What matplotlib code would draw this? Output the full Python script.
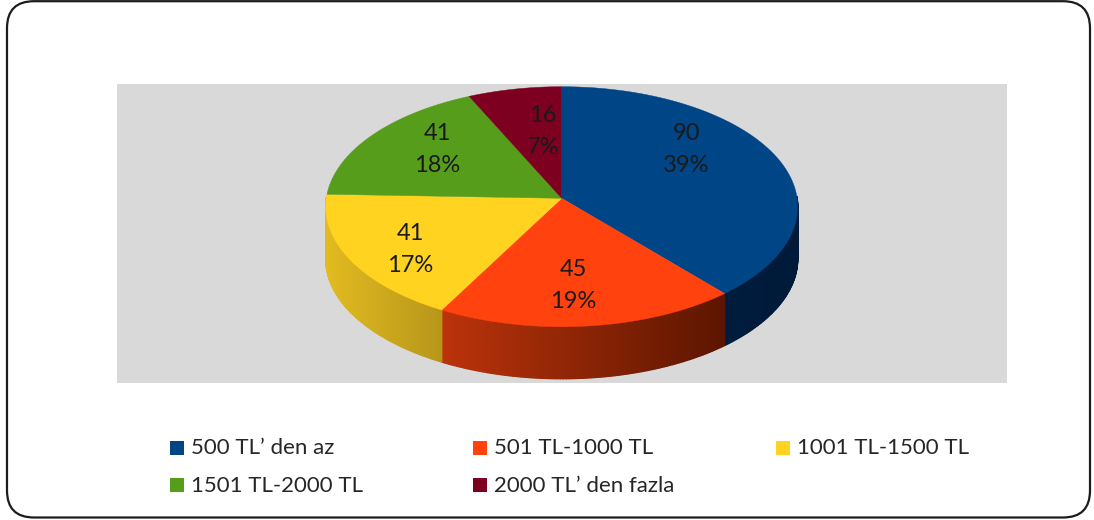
import numpy as np
import matplotlib
matplotlib.use("Agg")
import matplotlib.pyplot as plt
from matplotlib.collections import PolyCollection
from matplotlib.colors import to_rgb
from matplotlib.patches import FancyBboxPatch, Polygon, Rectangle

categories = ["500 TL\u2019 den az", "501 TL-1000 TL", "1001 TL-1500 TL", "1501 TL-2000 TL", "2000 TL\u2019 den fazla"]
values = [90, 45, 41, 41, 16]
percent_labels = ["39%", "19%", "17%", "18%", "7%"]
colors = ["#004586", "#ff420e", "#ffd320", "#579d1c", "#7e0021"]
side_left = ["#001c3d", "#bb330a", "#e2bb20", "#3d6e14", "#58001a"]
side_right = ["#001a38", "#5c1500", "#b8961a", "#3d6e14", "#58001a"]

# layout (pixels)
W, H = 1094, 520
APEX_X, APEX_Y = 561.7, 198.3
SX, SY, PERSP, DEPTH = 235.4, 119.4, 0.07, 52
label_xy = [(686, 133, 166), (573, 269, 301), (410, 234, 266), (437, 134, 165), (543, 116, 147)]
legend_xy = [(170, 441), (473, 441), (776, 441), (170, 478), (473, 478)]

plt.rcParams["font.family"] = ["Lato", "DejaVu Sans"]
fig = plt.figure(figsize=(W / 100, H / 100), dpi=100, facecolor="white")
ax = fig.add_axes([0, 0, 1, 1])
ax.set_xlim(0, W)
ax.set_ylim(H, 0)
ax.axis("off")


def rim(theta):
    u, v = np.sin(theta), -np.cos(theta)
    d = 1 - PERSP * v
    return APEX_X + SX * u / d, APEX_Y + SY * v / d


# frame
ax.add_patch(FancyBboxPatch((7, 1.2), 1083, 516.3, boxstyle="round,pad=0,rounding_size=27",
                            fc="white", ec="#1c1c1c", lw=1.6, zorder=0))
# plot area
ax.add_patch(Rectangle((117, 84), 890, 299, fc="#d9d9d9", ec="none", zorder=1))

edges = np.cumsum([0] + values) / sum(values) * 2 * np.pi

# sides: only the part of the rim that faces the viewer
for i in range(len(values)):
    t = np.linspace(edges[i], edges[i + 1], max(int((edges[i + 1] - edges[i]) * 90), 4))
    t = t[np.cos(t) < 0.02]
    if len(t) < 2:
        continue
    x, y = rim(t)
    polys, cols = [], []
    lo, hi = x.min(), x.max()
    for j in range(len(t) - 1):
        polys.append([(x[j], y[j]), (x[j + 1], y[j + 1]), (x[j + 1], y[j + 1] + DEPTH), (x[j], y[j] + DEPTH)])
        f = ((x[j] + x[j + 1]) / 2 - lo) / (hi - lo)
        cols.append((1 - f) * np.array(to_rgb(side_left[i])) + f * np.array(to_rgb(side_right[i])))
    ax.add_collection(PolyCollection(polys, facecolors=cols, edgecolors=cols, linewidths=1.0, zorder=2))

# top faces
for i in range(len(values)):
    t = np.linspace(edges[i], edges[i + 1], 200)
    x, y = rim(t)
    pts = [(APEX_X, APEX_Y)] + list(zip(x, y))
    ax.add_patch(Polygon(pts, closed=True, fc=colors[i], ec=colors[i], lw=0.3, zorder=3))

# data labels
for v, p, (lx, y1, y2) in zip(values, percent_labels, label_xy):
    ax.text(lx, y1, str(v), ha="center", va="center", fontsize=17, color="#1a1a1a", zorder=4)
    ax.text(lx, y2, p, ha="center", va="center", fontsize=17, color="#1a1a1a", zorder=4)

# legend
for name, c, (lx, ly) in zip(categories, colors, legend_xy):
    ax.add_patch(Rectangle((lx, ly), 14, 14, fc=c, ec="none", zorder=4))
    ax.text(lx + 21, ly + 7.5, name, ha="left", va="center", fontsize=16, color="#262626", zorder=4)

fig.savefig("out.png", dpi=100)
